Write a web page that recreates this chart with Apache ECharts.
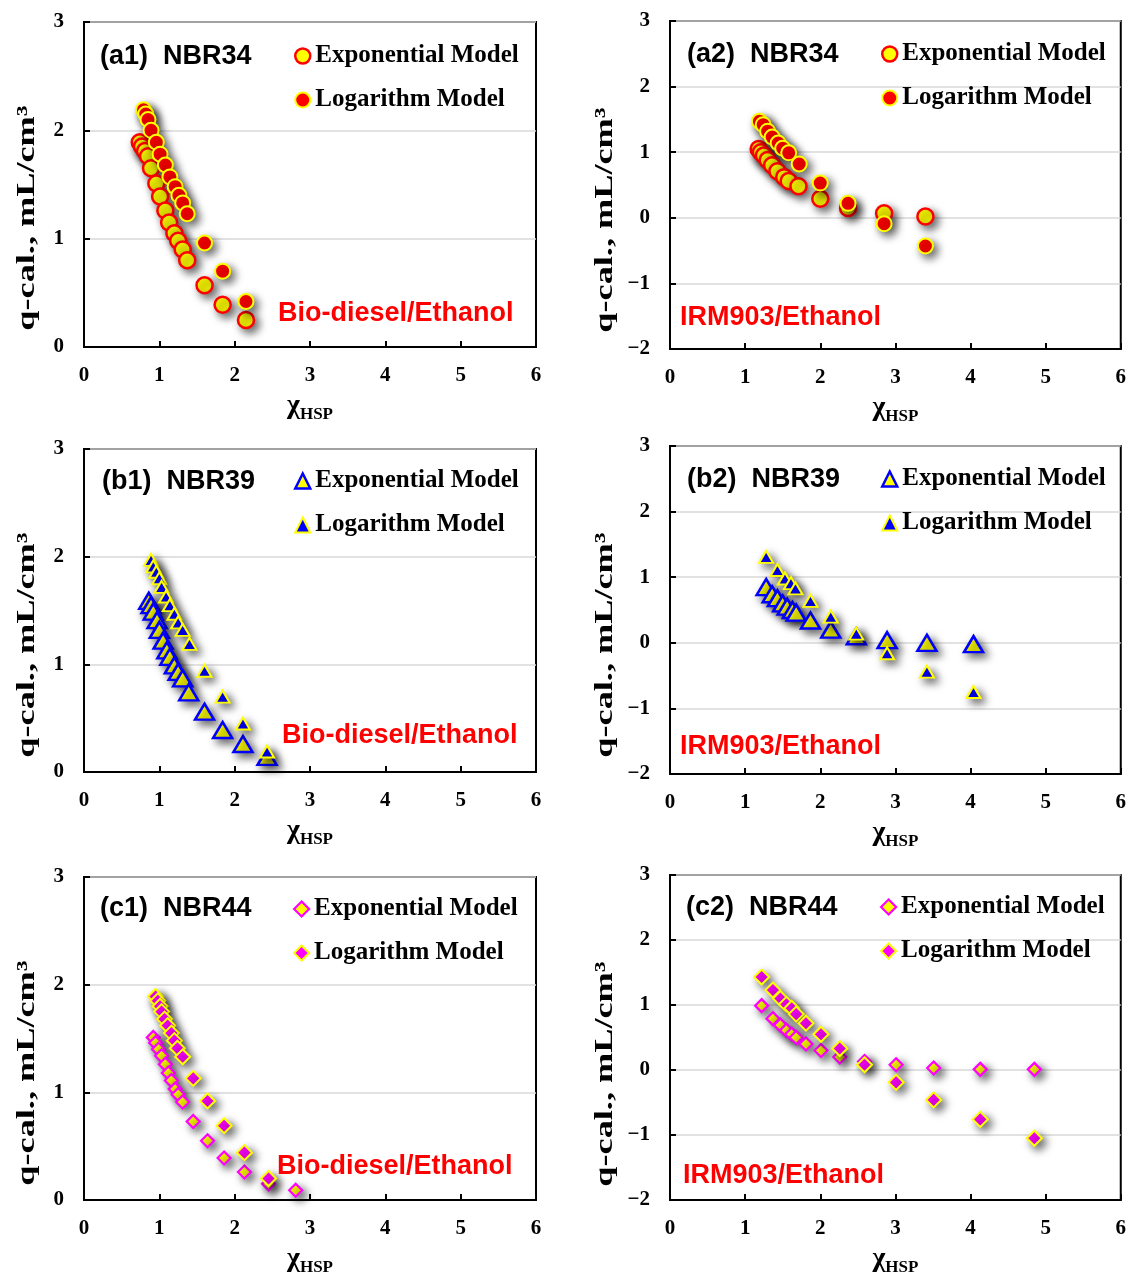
<!DOCTYPE html>
<html>
<head>
<meta charset="utf-8">
<style>
html,body{margin:0;padding:0;background:#fff;}
#chart{width:1129px;height:1277px;}
</style>
<script src="https://cdn.jsdelivr.net/npm/echarts@6/dist/echarts.min.js"></script>
</head>
<body>
<div id="chart"></div>
<script>
// ---------- data ----------
const xTicks = [0, 1, 2, 3, 4, 5, 6];
const legendNames = ['Exponential Model', 'Logarithm Model'];

const a1ExpX = [0.74, 0.77, 0.81, 0.85, 0.89, 0.96, 1.01, 1.08, 1.13, 1.20, 1.25, 1.31, 1.37, 1.60, 1.84, 2.15];
const a1ExpY = [1.89, 1.85, 1.81, 1.76, 1.65, 1.51, 1.39, 1.26, 1.15, 1.05, 0.98, 0.90, 0.80, 0.57, 0.39, 0.25];
const a1LogX = [0.79, 0.82, 0.85, 0.89, 0.96, 1.01, 1.08, 1.14, 1.21, 1.26, 1.31, 1.37, 1.60, 1.84, 2.15];
const a1LogY = [2.19, 2.15, 2.10, 2.00, 1.89, 1.78, 1.68, 1.57, 1.48, 1.40, 1.33, 1.23, 0.96, 0.70, 0.42];

const a2ExpX = [1.18, 1.21, 1.25, 1.30, 1.36, 1.43, 1.52, 1.58, 1.71, 2.00, 2.37, 2.85, 3.40];
const a2ExpY = [1.05, 1.00, 0.95, 0.88, 0.80, 0.71, 0.62, 0.56, 0.48, 0.29, 0.15, 0.07, 0.02];
const a2LogX = [1.19, 1.24, 1.30, 1.36, 1.44, 1.50, 1.58, 1.72, 2.00, 2.37, 2.85, 3.40];
const a2LogY = [1.47, 1.42, 1.32, 1.23, 1.14, 1.06, 0.99, 0.82, 0.53, 0.22, -0.09, -0.43];

const b1ExpX = [0.86, 0.89, 0.92, 0.97, 1.00, 1.05, 1.10, 1.14, 1.20, 1.25, 1.31, 1.39, 1.60, 1.84, 2.11, 2.43];
const b1ExpY = [1.59, 1.55, 1.49, 1.41, 1.32, 1.22, 1.13, 1.07, 0.99, 0.93, 0.87, 0.74, 0.56, 0.39, 0.26, 0.14];
const b1LogX = [0.89, 0.92, 0.96, 1.00, 1.03, 1.09, 1.14, 1.20, 1.25, 1.31, 1.40, 1.60, 1.84, 2.11, 2.43];
const b1LogY = [1.97, 1.91, 1.86, 1.80, 1.72, 1.63, 1.55, 1.47, 1.39, 1.32, 1.19, 0.94, 0.70, 0.45, 0.19];

const b2ExpX = [1.28, 1.36, 1.43, 1.50, 1.56, 1.63, 1.68, 1.87, 2.14, 2.48, 2.89, 3.42, 4.04];
const b2ExpY = [0.85, 0.74, 0.68, 0.60, 0.55, 0.50, 0.46, 0.34, 0.20, 0.10, 0.04, 0.00, -0.02];
const b2LogX = [1.28, 1.43, 1.53, 1.61, 1.67, 1.87, 2.14, 2.48, 2.89, 3.42, 4.04];
const b2LogY = [1.31, 1.11, 0.98, 0.91, 0.83, 0.64, 0.40, 0.14, -0.16, -0.44, -0.75];

const c1ExpX = [0.92, 0.95, 0.99, 1.03, 1.08, 1.12, 1.16, 1.21, 1.25, 1.31, 1.45, 1.64, 1.86, 2.13, 2.45, 2.81];
const c1ExpY = [1.51, 1.46, 1.40, 1.34, 1.26, 1.18, 1.11, 1.03, 0.98, 0.91, 0.73, 0.55, 0.39, 0.26, 0.15, 0.09];
const c1LogX = [0.95, 0.98, 1.01, 1.03, 1.07, 1.11, 1.16, 1.20, 1.24, 1.31, 1.45, 1.64, 1.86, 2.13, 2.45];
const c1LogY = [1.89, 1.85, 1.80, 1.75, 1.68, 1.62, 1.55, 1.48, 1.41, 1.33, 1.13, 0.92, 0.69, 0.44, 0.20];

const c2ExpX = [1.22, 1.37, 1.47, 1.55, 1.62, 1.68, 1.81, 2.01, 2.26, 2.59, 3.01, 3.51, 4.13, 4.85];
const c2ExpY = [0.99, 0.79, 0.69, 0.61, 0.55, 0.50, 0.40, 0.30, 0.20, 0.13, 0.08, 0.03, 0.01, 0.01];
const c2LogX = [1.22, 1.37, 1.47, 1.55, 1.62, 1.68, 1.81, 2.01, 2.26, 2.59, 3.01, 3.51, 4.13, 4.85];
const c2LogY = [1.43, 1.23, 1.10, 1.01, 0.95, 0.86, 0.72, 0.55, 0.33, 0.08, -0.19, -0.46, -0.76, -1.05];

const panelTitles = ['(a1)  NBR34', '(a2)  NBR34', '(b1)  NBR39', '(b2)  NBR39', '(c1)  NBR44', '(c2)  NBR44'];
const solventLabels = ['Bio-diesel/Ethanol', 'IRM903/Ethanol', 'Bio-diesel/Ethanol', 'IRM903/Ethanol', 'Bio-diesel/Ethanol', 'IRM903/Ethanol'];
const yRanges = [[0, 3], [-2, 3], [0, 3], [-2, 3], [0, 3], [-2, 3]];
const yAxisTitle = 'q-cal., mL/cm\u00b3';

// ---------- layout & style ----------
const zip = (xs, ys) => xs.map((x, i) => [x, ys[i]]);
const RED = '#FF0000', YEL = '#FFFF00', BLUE = '#0000FF', MAG = '#FF00FF';
const SERIF = '"Liberation Serif", "Times New Roman", serif';
const SANS = '"Liberation Sans", Arial, sans-serif';

const styles = {
  circle: {
    exp: {symbol: 'circle', size: 16, color: YEL, border: RED, bw: 2.5},
    log: {symbol: 'circle', size: 15, color: RED, border: YEL, bw: 2}
  },
  triangle: {
    exp: {symbol: 'triangle', size: [19, 16], color: YEL, border: BLUE, bw: 2.5},
    log: {symbol: 'triangle', size: [14, 12], color: BLUE, border: YEL, bw: 2}
  },
  diamond: {
    exp: {symbol: 'diamond', size: 13, color: YEL, border: MAG, bw: 2.2},
    log: {symbol: 'diamond', size: 15, color: MAG, border: YEL, bw: 2}
  }
};

const panels = [
  {grid: [84, 22, 452, 325], shape: 'circle', exp: zip(a1ExpX, a1ExpY), log: zip(a1LogX, a1LogY),
   title: [100, 57], sol: [278, 314], leg: [294, 56], yname: [28, 218]},
  {grid: [670, 21, 453, 328], shape: 'circle', exp: zip(a2ExpX, a2ExpY), log: zip(a2LogX, a2LogY),
   title: [687, 55], sol: [680, 318], leg: [881, 54], yname: [606, 220]},
  {grid: [84, 449, 452, 323], shape: 'triangle', exp: zip(b1ExpX, b1ExpY), log: zip(b1LogX, b1LogY),
   title: [102, 482], sol: [282, 736], leg: [294, 481], yname: [28, 645]},
  {grid: [670, 446, 453, 328], shape: 'triangle', exp: zip(b2ExpX, b2ExpY), log: zip(b2LogX, b2LogY),
   title: [687, 480], sol: [680, 747], leg: [881, 479], yname: [606, 645]},
  {grid: [84, 877, 452, 323], shape: 'diamond', exp: zip(c1ExpX, c1ExpY), log: zip(c1LogX, c1LogY),
   title: [100, 909], sol: [277, 1167], leg: [293, 909], yname: [28, 1073]},
  {grid: [670, 875, 453, 330], shape: 'diamond', exp: zip(c2ExpX, c2ExpY), log: zip(c2LogX, c2LogY),
   title: [686, 908], sol: [683, 1176], leg: [880, 907], yname: [606, 1074]}
];

const grids = [], xAxes = [], yAxes = [], series = [], legends = [], graphics = [];
const shadow = {shadowBlur: 8, shadowColor: 'rgba(0,0,0,0.6)', shadowOffsetX: 4, shadowOffsetY: 4};

panels.forEach((p, i) => {
  grids.push({left: p.grid[0], top: p.grid[1], width: p.grid[2], height: p.grid[3],
    show: true, borderColor: '#000', borderWidth: 2, backgroundColor: 'transparent'});
  xAxes.push({
    type: 'value', gridIndex: i, min: xTicks[0], max: xTicks[xTicks.length - 1], interval: 1,
    axisLine: {onZero: false, lineStyle: {color: '#000', width: 2}},
    axisTick: {inside: true, length: 6, lineStyle: {color: '#000', width: 2}},
    splitLine: {show: false},
    axisLabel: {margin: 18, color: '#000', fontFamily: SERIF, fontWeight: 'bold', fontSize: 21},
    name: '{c|\u03c7}{s|HSP}', nameLocation: 'middle', nameGap: 45,
    nameTextStyle: {color: '#000', fontFamily: SERIF, fontWeight: 'bold',
      rich: {
        c: {fontSize: 28, fontFamily: SERIF, fontWeight: 'bold', color: '#000', verticalAlign: 'bottom'},
        s: {fontSize: 17, fontFamily: SERIF, fontWeight: 'bold', color: '#000', verticalAlign: 'bottom', padding: [0, 0, -3, 0]}
      }}
  });
  yAxes.push({
    type: 'value', gridIndex: i, min: yRanges[i][0], max: yRanges[i][1], interval: 1,
    axisLine: {onZero: false, lineStyle: {color: '#000', width: 2}},
    axisTick: {inside: true, length: 6, lineStyle: {color: '#000', width: 2}},
    splitLine: {show: true, lineStyle: {color: '#D9D9D9', width: 1.5}},
    axisLabel: {margin: 20, color: '#000', fontFamily: SERIF, fontWeight: 'bold', fontSize: 21,
      formatter: v => String(v).replace('-', '\u2212')}
  });
  const st = styles[p.shape];
  ['exp', 'log'].forEach((k, j) => {
    const s = st[k];
    series.push({
      type: 'scatter', name: legendNames[j], xAxisIndex: i, yAxisIndex: i,
      symbol: s.symbol, symbolSize: s.size, data: p[k],
      itemStyle: Object.assign({color: s.color, borderColor: s.border, borderWidth: s.bw, opacity: 1}, shadow),
      emphasis: {disabled: true}, z: 2 + j
    });
  });
  legends.push({
    orient: 'vertical', left: p.leg[0], top: p.leg[1] - 12.5, padding: 0,
    itemWidth: 15, itemHeight: 15, itemGap: 19, selectedMode: false,
    textStyle: {fontFamily: SERIF, fontWeight: 'bold', fontSize: 25, color: '#000'},
    itemStyle: {shadowBlur: 0, shadowOffsetX: 0, shadowOffsetY: 0, shadowColor: 'transparent'},
    data: ['exp', 'log'].map((k, j) => ({
      name: legendNames[j], icon: st[k].symbol,
      itemStyle: {color: st[k].color, borderColor: st[k].border, borderWidth: st[k].bw,
        shadowBlur: 0, shadowOffsetX: 0, shadowOffsetY: 0, shadowColor: 'transparent'}
    }))
  });
  graphics.push({type: 'text', x: p.title[0], y: p.title[1], z: 10,
    style: {text: panelTitles[i], font: 'bold 27px ' + SANS, fill: '#000', align: 'left', verticalAlign: 'middle'}});
  graphics.push({type: 'text', x: p.sol[0], y: p.sol[1], z: 10,
    style: {text: solventLabels[i], font: 'bold 27px ' + SANS, fill: RED, align: 'left', verticalAlign: 'middle'}});
  graphics.push({type: 'text', x: p.yname[0], y: p.yname[1], rotation: Math.PI / 2, scaleX: 1.45, z: 10,
    style: {text: yAxisTitle, font: 'bold 25px ' + SERIF, fill: '#000', align: 'center', verticalAlign: 'middle'}});
});

const chart = echarts.init(document.getElementById('chart'), null, {renderer: 'canvas'});
chart.setOption({
  backgroundColor: '#fff',
  animation: false,
  grid: grids, xAxis: xAxes, yAxis: yAxes, series: series, legend: legends,
  graphic: graphics
});
</script>
</body>
</html>
